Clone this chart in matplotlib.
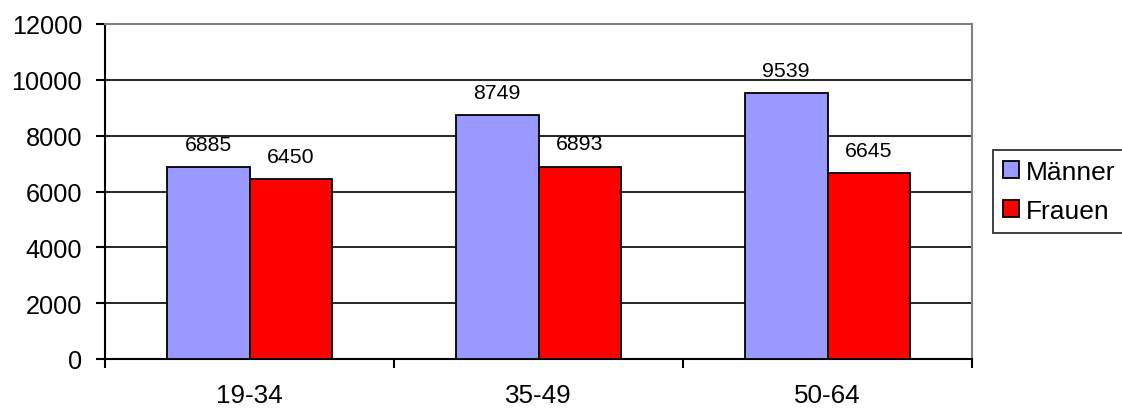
import matplotlib
matplotlib.use("Agg")
import matplotlib.pyplot as plt
import numpy as np

categories = ["19-34", "35-49", "50-64"]
maenner = [6885, 8749, 9539]
frauen = [6450, 6893, 6645]
series_names = ["Männer", "Frauen"]
yticks = [0, 2000, 4000, 6000, 8000, 10000, 12000]

plt.rcParams['font.family'] = ['Liberation Sans', 'DejaVu Sans']

fig = plt.figure(figsize=(11.22, 4.10), dpi=100)
ax = fig.add_axes([105/1122, 1-360/410, (972-105)/1122, (360-25)/410])

x = np.arange(len(categories))
w = 2/7
b1 = ax.bar(x - w/2, maenner, w, color="#9999ff", edgecolor="black", linewidth=1.3, label=series_names[0], zorder=3)
b2 = ax.bar(x + w/2, frauen, w, color="#ff0000", edgecolor="black", linewidth=1.3, label=series_names[1], zorder=3)

for rects, vals in ((b1, maenner), (b2, frauen)):
    for r, v in zip(rects, vals):
        ax.annotate(str(v), (r.get_x() + r.get_width()/2, v), xytext=(0, 9.5),
                    textcoords="offset points", ha="center", va="bottom", fontsize=15.3)

ax.set_xlim(-0.5, len(categories) - 0.5)
ax.set_ylim(0, 12000)
ax.set_yticks(yticks)
ax.set_yticklabels([str(t) for t in yticks], fontsize=18.2)
ax.yaxis.grid(True, color="black", linewidth=1.2, zorder=0)
ax.set_axisbelow(True)

ax.set_xticks(x)
ax.set_xticklabels(categories, fontsize=18.7)
ax.tick_params(axis='x', length=0, pad=17.5)
ax.set_xticks(np.arange(len(categories) + 1) - 0.5, minor=True)
ax.tick_params(axis='x', which='minor', length=6.5, width=1.5, direction='out')
ax.tick_params(axis='y', length=6.5, width=1.5, direction='out', pad=10)

for s in ("left", "bottom"):
    ax.spines[s].set_color("black")
    ax.spines[s].set_linewidth(1.5)
for s in ("top", "right"):
    ax.spines[s].set_color("#808080")
    ax.spines[s].set_linewidth(1.5)

leg = fig.legend(loc="upper left", bbox_to_anchor=(993/1122, 1-151/410), fontsize=19,
                 frameon=True, fancybox=False, edgecolor="black", handlelength=0.62,
                 handleheight=0.62, handletextpad=0.23, borderpad=0.38, labelspacing=0.55,
                 borderaxespad=0)
leg.get_frame().set_linewidth(1.3)
for h in leg.legend_handles:
    h.set_edgecolor("black")
    h.set_linewidth(1.3)

fig.savefig("out.png", dpi=100)
